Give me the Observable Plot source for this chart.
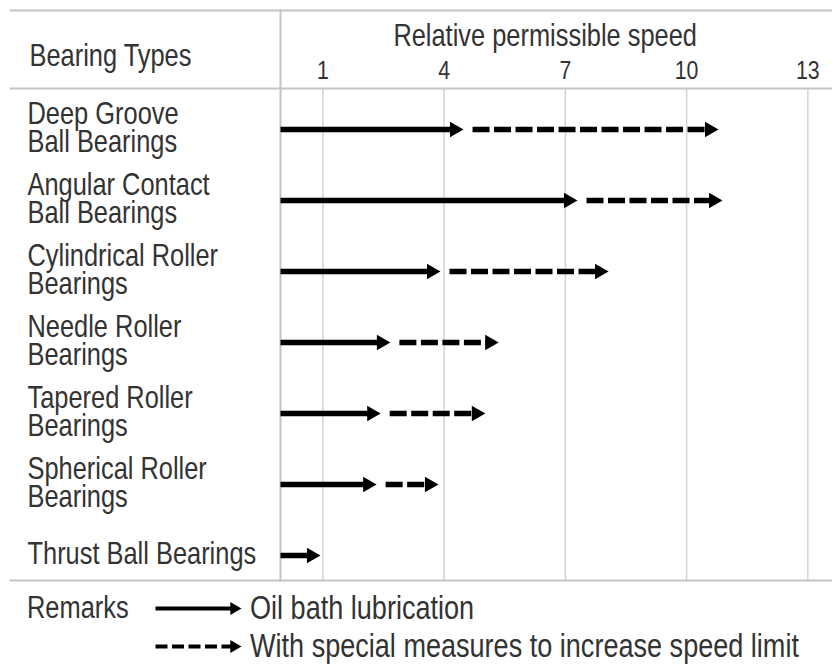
<!DOCTYPE html>
<html>
<head>
<meta charset="utf-8">
<script src="https://cdn.jsdelivr.net/npm/d3@7"></script>
<script src="https://cdn.jsdelivr.net/npm/@observablehq/plot@0.6"></script>
<style>
  html, body { margin: 0; padding: 0; background: #fff; overflow: hidden; }
  body { font-family: 'Liberation Sans', Arial, sans-serif; color: #333; width: 832px; }
  #chart svg { display: block; }
  #legend { height: 88px; font-size: 33px; }
  .lrow { display: flex; align-items: center; height: 38px; }
  .lrow:first-child { margin-top: 5px; }
  .lhead { width: 128px; padding-left: 27px; flex: none; font-size: 31px; }
  .lsw { width: 86px; height: 20px; flex: none; }
  .lsw svg { display: block; }
  .ltext { margin-left: 9px; white-space: nowrap; flex: none; width: 570px; }
  .narrow { display: inline-block; transform: scaleX(0.82); transform-origin: 0 50%; white-space: nowrap; }
</style>
</head>
<body>
<div id="chart"></div>
<div id="legend"></div>
<script>
// ---- data ----
const bearingTypes = [
  "Deep Groove\nBall Bearings",
  "Angular Contact\nBall Bearings",
  "Cylindrical Roller\nBearings",
  "Needle Roller\nBearings",
  "Tapered Roller\nBearings",
  "Spherical Roller\nBearings",
  "Thrust Ball Bearings"
];
const oilBath = [4.48, 7.30, 3.91, 2.67, 2.43, 2.33, 0.94];
const special = [10.79, 10.89, 8.07, 5.35, 5.02, 3.86, null];
const speedTicks = [1, 4, 7, 10, 13];
const axisTitle = "Relative permissible speed";
const columnTitle = "Bearing Types";
const remarksLabel = "Remarks";
const legendLabels = ["Oil bath lubrication", "With special measures to increase speed limit"];

// ---- derived ----
const rows = bearingTypes.map((type, i) => ({type, oil: oilBath[i], special: special[i]}));
const specialRows = rows.filter(d => d.special != null);

const font = "'Liberation Sans', Arial, sans-serif";
const narrow = 0.82;
const ink = "#333";
const lineColor = "#c4c4c4";
const gridColor = "#d2d2d2";
const arrowInk = "#000";
const headR = 5.8;
const headTip = headR * Math.sqrt(Math.PI / (3 * Math.sqrt(3))) * 2;

const chart = Plot.plot({
  width: 832,
  height: 584,
  marginLeft: 282,
  marginRight: 0,
  marginTop: 88,
  marginBottom: 4,
  style: {fontFamily: font, fontSize: "30px", color: ink, background: "#fff", overflow: "visible"},
  x: {domain: [0, 550 / 40.41]},
  y: {type: "point", domain: bearingTypes, range: [126, 557], padding: 0},
  marks: [
    Plot.gridX(speedTicks, {stroke: gridColor, strokeOpacity: 1, strokeWidth: 1.5}),
    Plot.frame({anchor: "top", insetTop: -78, insetLeft: -272, stroke: lineColor, strokeWidth: 2}),
    Plot.frame({anchor: "top", insetLeft: -272, stroke: lineColor, strokeWidth: 2}),
    Plot.frame({anchor: "bottom", insetLeft: -272, stroke: lineColor, strokeWidth: 2}),
    Plot.frame({anchor: "left", insetLeft: -2, insetTop: -78, stroke: lineColor, strokeWidth: 2}),
    Plot.axisX({anchor: "top", ticks: speedTicks, tickSize: 0, tickPadding: 10, fontSize: 26, label: null}),
    Plot.text([axisTitle], {x: [(0 + speedTicks[speedTicks.length - 1]) / 2], text: d => d, frameAnchor: "top", dy: -43, lineAnchor: "bottom", fontSize: 31, fill: ink}),
    Plot.text([columnTitle], {text: d => d, frameAnchor: "top-left", dx: -253, dy: -23, textAnchor: "start", lineAnchor: "bottom", fontSize: 31, fill: ink}),
    Plot.axisY({anchor: "left", tickSize: 0, tickPadding: 0, textAnchor: "start", dx: -255, fontSize: 31, lineHeight: 0.9, label: null}),
    Plot.arrow(rows, {x1: 0, x2: "oil", y: "type", stroke: arrowInk, strokeWidth: 5.5, headLength: 0, insetStart: -2, insetEnd: 8, strokeLinecap: "butt"}),
    Plot.arrow(specialRows, {x1: "oil", x2: "special", y: "type", stroke: arrowInk, strokeWidth: 5.5, strokeDasharray: "17,4.5", headLength: 0, insetStart: 9, insetEnd: 8, strokeLinecap: "butt"}),
    Plot.dot(rows, {x: "oil", y: "type", symbol: "triangle", r: headR, rotate: 90, fill: arrowInk, stroke: "none", dx: -headTip}),
    Plot.dot(specialRows, {x: "special", y: "type", symbol: "triangle", r: headR, rotate: 90, fill: arrowInk, stroke: "none", dx: -headTip})
  ]
});
// condense all chart text horizontally around its anchor point
d3.select(chart).selectAll("text").each(function() {
  const t = this.getAttribute("transform");
  if (t) {
    this.setAttribute("transform", `${t} scale(${narrow},1)`);
  } else {
    const x = +this.getAttribute("x") || 0, y = +this.getAttribute("y") || 0;
    this.setAttribute("transform", `translate(${x},${y}) scale(${narrow},1) translate(${-x},${-y})`);
  }
});
document.getElementById("chart").appendChild(chart);

// ---- legend ----
function swatch(dashed) {
  const r = 4.8;
  const tip = r * Math.sqrt(Math.PI / (3 * Math.sqrt(3))) * 2;
  return Plot.plot({
    width: 86, height: 20, margin: 0,
    x: {domain: [0, 1], axis: null},
    y: {domain: [-1, 1], axis: null},
    style: {background: "transparent", overflow: "visible"},
    marks: [
      Plot.arrow([0], {x1: 0, x2: 1, y: 0, stroke: arrowInk, strokeWidth: 4, headLength: 0, insetEnd: 7, strokeLinecap: "butt", strokeDasharray: dashed ? "12,4.5" : null}),
      Plot.dot([0], {x: 1, y: 0, symbol: "triangle", r, rotate: 90, fill: arrowInk, stroke: "none", dx: -tip})
    ]
  });
}
const legend = document.getElementById("legend");
legendLabels.forEach((label, i) => {
  const row = document.createElement("div");
  row.className = "lrow";
  const head = document.createElement("div");
  head.className = "lhead";
  if (i === 0) {
    const s = document.createElement("span");
    s.className = "narrow";
    s.textContent = remarksLabel;
    head.appendChild(s);
  }
  const sw = document.createElement("div");
  sw.className = "lsw";
  sw.appendChild(swatch(i === 1));
  const txt = document.createElement("div");
  txt.className = "ltext";
  const s2 = document.createElement("span");
  s2.className = "narrow";
  s2.textContent = label;
  txt.appendChild(s2);
  row.append(head, sw, txt);
  legend.appendChild(row);
});
</script>
</body>
</html>
